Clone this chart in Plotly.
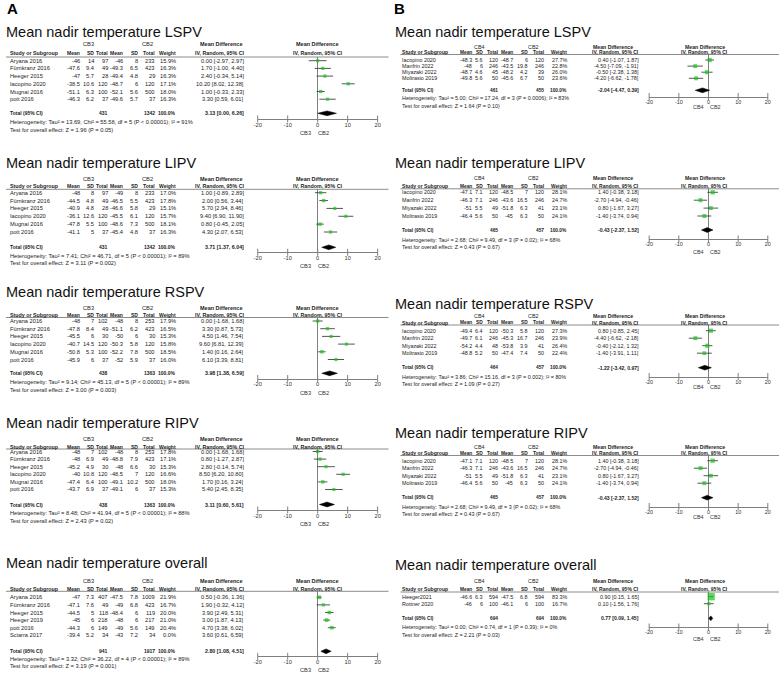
import plotly.graph_objects as go

W, H = 782, 674
FONT = "Liberation Sans, Arial, Helvetica, sans-serif"

# ======================= DATA =======================
# ---- Panel A: CB3 vs CB2 ----
studies_A_pv = ["Aryana 2016", "Fürnkranz 2016", "Heeger 2015", "Iacopino 2020", "Mugnai 2016", "pott 2016"]

A_lspv_mean_e = [-46, -47.6, -47, -38.5, -51.1, -46.3]
A_lspv_sd_e = [14, 9.4, 5.7, 10.6, 6.3, 6.2]
A_lspv_n_e = [97, 49, 28, 120, 100, 37]
A_lspv_mean_c = [-46, -49.3, -49.4, -48.7, -52.1, -49.6]
A_lspv_sd_c = [8, 6.5, 4.8, 6, 5.6, 5.7]
A_lspv_n_c = [233, 423, 29, 120, 500, 37]
A_lspv_weight = [15.9, 16.3, 16.3, 17.1, 18.0, 16.3]
A_lspv_md = [0.00, 1.70, 2.40, 10.20, 1.00, 3.30]
A_lspv_lo = [-2.97, -1.00, -0.34, 8.02, -0.33, 0.59]
A_lspv_hi = [2.97, 4.40, 5.14, 12.38, 2.33, 6.01]
A_lspv_total = [431, 1342, 3.13, 0.00, 6.26]
A_lspv_stats = [13.69, 55.58, 5, "&lt; 0.00001", 91, 1.96, "0.05"]

A_lipv_mean_e = [-48, -44.5, -40.9, -36.1, -47.8, -41.1]
A_lipv_sd_e = [8, 4.8, 4.8, 12.6, 5.5, 5]
A_lipv_n_e = [97, 49, 28, 120, 100, 37]
A_lipv_mean_c = [-49, -46.5, -46.6, -45.5, -48.6, -45.4]
A_lipv_sd_c = [8, 5.5, 5.8, 6.1, 7.3, 4.8]
A_lipv_n_c = [233, 423, 29, 120, 500, 37]
A_lipv_weight = [17.0, 17.8, 15.1, 15.7, 18.1, 16.3]
A_lipv_md = [1.00, 2.00, 5.70, 9.40, 0.80, 4.30]
A_lipv_lo = [-0.89, 0.56, 2.94, 6.90, -0.45, 2.07]
A_lipv_hi = [2.89, 3.44, 8.46, 11.90, 2.05, 6.53]
A_lipv_total = [431, 1342, 3.71, 1.37, 6.04]
A_lipv_stats = [7.41, 46.71, 5, "&lt; 0.00001", 89, 3.11, "0.002"]

A_rspv_mean_e = [-48, -47.8, -45.5, -40.7, -50.8, -45.9]
A_rspv_sd_e = [7, 8.4, 6, 14.5, 5.3, 6]
A_rspv_n_e = [102, 49, 30, 120, 100, 37]
A_rspv_mean_c = [-48, -51.1, -50, -50.3, -52.2, -52]
A_rspv_sd_c = [8, 6.2, 6, 5.8, 7.8, 5.9]
A_rspv_n_c = [253, 423, 30, 120, 500, 37]
A_rspv_weight = [17.9, 16.5, 15.3, 15.8, 18.5, 16.0]
A_rspv_md = [0.00, 3.30, 4.50, 9.60, 1.40, 6.10]
A_rspv_lo = [-1.68, 0.87, 1.46, 6.81, 0.16, 3.39]
A_rspv_hi = [1.68, 5.73, 7.54, 12.39, 2.64, 8.81]
A_rspv_total = [438, 1363, 3.98, 1.38, 6.59]
A_rspv_stats = [9.14, 45.13, 5, "&lt; 0.00001", 89, 3.00, "0.003"]

A_ripv_mean_e = [-48, -48, -45.2, -40, -47.4, -43.7]
A_ripv_sd_e = [7, 6.9, 4.9, 10.8, 6.4, 6.9]
A_ripv_n_e = [102, 49, 30, 120, 100, 37]
A_ripv_mean_c = [-48, -48.8, -48, -48.5, -49.1, -49.1]
A_ripv_sd_c = [8, 7.9, 6.6, 7, 10.2, 6]
A_ripv_n_c = [253, 423, 30, 120, 500, 37]
A_ripv_weight = [17.8, 17.1, 15.3, 16.6, 18.0, 15.3]
A_ripv_md = [0.00, 0.80, 2.80, 8.50, 1.70, 5.40]
A_ripv_lo = [-1.68, -1.27, -0.14, 6.20, 0.16, 2.45]
A_ripv_hi = [1.68, 2.87, 5.74, 10.80, 3.24, 8.35]
A_ripv_total = [438, 1363, 3.11, 0.60, 5.61]
A_ripv_stats = [8.48, 41.94, 5, "&lt; 0.00001", 88, 2.43, "0.02"]

A_all_study = ["Aryana 2016", "Fürnkranz 2016", "Heeger 2015", "Heeger 2019", "pott 2016", "Sciarra 2017"]
A_all_mean_e = [-47, -47.1, -44.5, -45, -44.3, -39.4]
A_all_sd_e = [7.3, 7.6, 5, 6, 6, 5.2]
A_all_n_e = [407, 49, 118, 218, 149, 34]
A_all_mean_c = [-47.5, -49, -48.4, -48, -49, -43]
A_all_sd_c = [7.8, 6.8, 6, 6, 5.6, 7.2]
A_all_n_c = [1009, 423, 119, 217, 149, 34]
A_all_weight = [21.9, 16.7, 20.0, 21.0, 20.4, 0.0]
A_all_md = [0.50, 1.90, 3.90, 3.00, 4.70, 3.60]
A_all_lo = [-0.36, -0.32, 2.49, 1.87, 3.38, 0.61]
A_all_hi = [1.36, 4.12, 5.31, 4.13, 6.02, 6.59]
A_all_total = [941, 1917, 2.80, 1.08, 4.51]
A_all_stats = [3.32, 36.22, 4, "&lt; 0.00001", 89, 3.19, "0.001"]

# ---- Panel B: CB4 vs CB2 ----
studies_B_pv = ["Iacopino 2020", "Manfrin 2022", "Miyazaki 2022", "Moltrasio 2019"]

B_lspv_mean_e = [-48.3, -48, -48.7, -49.8]
B_lspv_sd_e = [5.6, 6, 4.6, 5.6]
B_lspv_n_e = [120, 246, 45, 50]
B_lspv_mean_c = [-48.7, -43.5, -48.2, -45.6]
B_lspv_sd_c = [6, 19.8, 4.2, 6.7]
B_lspv_n_c = [120, 246, 39, 50]
B_lspv_weight = [27.7, 22.8, 26.0, 23.6]
B_lspv_md = [0.40, -4.50, -0.50, -4.20]
B_lspv_lo = [-1.07, -7.09, -2.38, -6.62]
B_lspv_hi = [1.87, -1.91, 1.38, -1.78]
B_lspv_total = [461, 455, -2.04, -4.47, 0.39]
B_lspv_stats = [5.00, 17.24, 3, "= 0.0006", 83, 1.64, "0.10"]

B_lipv_mean_e = [-47.1, -46.3, -51, -46.4]
B_lipv_sd_e = [7.1, 7.1, 5.5, 5.6]
B_lipv_n_e = [120, 246, 49, 50]
B_lipv_mean_c = [-48.5, -43.6, -51.8, -45]
B_lipv_sd_c = [7, 16.5, 6.3, 6.3]
B_lipv_n_c = [120, 246, 41, 50]
B_lipv_weight = [28.1, 24.7, 23.1, 24.1]
B_lipv_md = [1.40, -2.70, 0.80, -1.40]
B_lipv_lo = [-0.38, -4.94, -1.67, -3.74]
B_lipv_hi = [3.18, -0.46, 3.27, 0.94]
B_lipv_total = [465, 457, -0.43, -2.37, 1.52]
B_lipv_stats = [2.68, 9.49, 3, "= 0.02", 68, 0.43, "0.67"]

B_rspv_mean_e = [-49.4, -49.7, -54.2, -48.8]
B_rspv_sd_e = [6.4, 6.1, 4.4, 5.2]
B_rspv_n_e = [120, 246, 48, 50]
B_rspv_mean_c = [-50.3, -45.3, -53.8, -47.4]
B_rspv_sd_c = [5.8, 16.7, 3.9, 7.4]
B_rspv_n_c = [120, 246, 41, 50]
B_rspv_weight = [27.3, 23.9, 26.4, 22.4]
B_rspv_md = [0.80, -4.40, -0.40, -1.40]
B_rspv_lo = [-0.85, -6.62, -2.12, -3.91]
B_rspv_hi = [2.45, -2.18, 1.32, 1.11]
B_rspv_total = [464, 457, -1.22, -3.42, 0.97]
B_rspv_stats = [3.86, 15.16, 3, "= 0.002", 80, 1.09, "0.27"]

B_ripv_mean_e = [-47.1, -46.3, -51, -46.4]
B_ripv_sd_e = [7.1, 7.1, 5.5, 5.6]
B_ripv_n_e = [120, 246, 49, 50]
B_ripv_mean_c = [-48.5, -43.6, -51.8, -45]
B_ripv_sd_c = [7, 16.5, 6.3, 6.3]
B_ripv_n_c = [120, 246, 41, 50]
B_ripv_weight = [28.1, 24.7, 23.1, 24.1]
B_ripv_md = [1.40, -2.70, 0.80, -1.40]
B_ripv_lo = [-0.38, -4.94, -1.67, -3.74]
B_ripv_hi = [3.18, -0.46, 3.27, 0.94]
B_ripv_total = [465, 457, -0.43, -2.37, 1.52]
B_ripv_stats = [2.68, 9.49, 3, "= 0.02", 68, 0.43, "0.67"]

B_all_study = ["Heeger2021", "Rottner 2020"]
B_all_mean_e = [-46.6, -46]
B_all_sd_e = [6.3, 6]
B_all_n_e = [594, 100]
B_all_mean_c = [-47.5, -46.1]
B_all_sd_c = [6.8, 6]
B_all_n_c = [594, 100]
B_all_weight = [83.3, 16.7]
B_all_md = [0.90, 0.10]
B_all_lo = [0.15, -1.56]
B_all_hi = [1.65, 1.76]
B_all_total = [694, 694, 0.77, 0.09, 1.45]
B_all_stats = [0.00, 0.74, 1, "= 0.39", 0, 2.21, "0.03"]

TICKS = [-20, -10, 0, 10, 20]

# ======================= LAYOUT PARAMETERS (pixels) =======================
COLS = {
    "A": dict(study=6, mean1=77, sd1=91, tot1=105, mean2=120.5, sd2=135.5, tot2=152,
              weight=173.5, ci=242, grp1=85, grp2=145, md=219, fmd=316.5,
              fx0=256, fx1=377, cbl=304.7, cbr=322.5, tx=2, lx0=2, lx1=388,
              fs=5.7, hs=5.0, gs=5.5, exp="CB3"),
    "B": dict(study=401.7, mean1=472, sd1=483, tot1=498, mean2=514, sd2=529, tot2=545,
              weight=568, ci=641, grp1=480, grp2=534, md=614, fmd=707,
              fx0=651, fx1=770.7, cbl=701, cbr=718, tx=395, lx0=400, lx1=782,
              fs=5.4, hs=4.8, gs=5.2, exp="CB4"),
}


def V(title, grp, col, line, r0, step, total, het, test, axis, cb):
    return dict(title=title, grp=grp, col=col, line=line, r0=r0, step=step,
                total=total, het=het, test=test, axis=axis, cb=cb)


PANELS = [
    ("A", "Mean nadir temperature LSPV", studies_A_pv, A_lspv_mean_e, A_lspv_sd_e, A_lspv_n_e, A_lspv_mean_c, A_lspv_sd_c, A_lspv_n_c, A_lspv_weight, A_lspv_md, A_lspv_lo, A_lspv_hi, A_lspv_total, A_lspv_stats,
     V(31.7, 44.3, 53, 57, 60.7, 7.7, 113.3, 122.3, 130, 119, 132.7)),
    ("A", "Mean nadir temperature LIPV", studies_A_pv, A_lipv_mean_e, A_lipv_sd_e, A_lipv_n_e, A_lipv_mean_c, A_lipv_sd_c, A_lipv_n_c, A_lipv_weight, A_lipv_md, A_lipv_lo, A_lipv_hi, A_lipv_total, A_lipv_stats,
     V(163, 179, 186.3, 189.3, 192.7, 7.86, 247.3, 255.9, 263.3, 252.3, 266)),
    ("A", "Mean nadir temperature RSPV", studies_A_pv, A_rspv_mean_e, A_rspv_sd_e, A_rspv_n_e, A_rspv_mean_c, A_rspv_sd_c, A_rspv_n_c, A_rspv_weight, A_rspv_md, A_rspv_lo, A_rspv_hi, A_rspv_total, A_rspv_stats,
     V(292.3, 308.3, 314.7, 317.5, 321, 7.7, 373.3, 382, 389.5, 378.5, 392.5)),
    ("A", "Mean nadir temperature RIPV", studies_A_pv, A_ripv_mean_e, A_ripv_sd_e, A_ripv_n_e, A_ripv_mean_c, A_ripv_sd_c, A_ripv_n_c, A_ripv_weight, A_ripv_md, A_ripv_lo, A_ripv_hi, A_ripv_total, A_ripv_stats,
     V(423, 439, 446.5, 449, 451.5, 7.6, 504.5, 513, 520.5, 510, 523.5)),
    ("A", "Mean nadir temperature overall", A_all_study, A_all_mean_e, A_all_sd_e, A_all_n_e, A_all_mean_c, A_all_sd_c, A_all_n_c, A_all_weight, A_all_md, A_all_lo, A_all_hi, A_all_total, A_all_stats,
     V(563, 580.7, 588.7, 591.3, 597.3, 7.6, 651.3, 659, 666.3, 656.3, 670)),
    ("B", "Mean nadir temperature LSPV", studies_B_pv, B_lspv_mean_e, B_lspv_sd_e, B_lspv_n_e, B_lspv_mean_c, B_lspv_sd_c, B_lspv_n_c, B_lspv_weight, B_lspv_md, B_lspv_lo, B_lspv_hi, B_lspv_total, B_lspv_stats,
     V(31.7, 47, 52.3, 54.5, 60, 6.1, 90.3, 98.3, 105.7, 96.5, 107.3)),
    ("B", "Mean nadir temperature LIPV", studies_B_pv, B_lipv_mean_e, B_lipv_sd_e, B_lipv_n_e, B_lipv_mean_c, B_lipv_sd_c, B_lipv_n_c, B_lipv_weight, B_lipv_md, B_lipv_lo, B_lipv_hi, B_lipv_total, B_lipv_stats,
     V(163.3, 178.3, 186.3, 188.8, 192.3, 7.9, 230, 240, 247.3, 239, 252)),
    ("B", "Mean nadir temperature RSPV", studies_B_pv, B_rspv_mean_e, B_rspv_sd_e, B_rspv_n_e, B_rspv_mean_c, B_rspv_sd_c, B_rspv_n_c, B_rspv_weight, B_rspv_md, B_rspv_lo, B_rspv_hi, B_rspv_total, B_rspv_stats,
     V(304.3, 315.7, 322.7, 325, 330.7, 7.5, 367.7, 376.7, 384, 376.5, 387.3)),
    ("B", "Mean nadir temperature RIPV", studies_B_pv, B_ripv_mean_e, B_ripv_sd_e, B_ripv_n_e, B_ripv_mean_c, B_ripv_sd_c, B_ripv_n_c, B_ripv_weight, B_ripv_md, B_ripv_lo, B_ripv_hi, B_ripv_total, B_ripv_stats,
     V(433.3, 446.7, 453.3, 455.5, 460.7, 7.5, 497.7, 506.7, 514, 506.5, 517.3)),
    ("B", "Mean nadir temperature overall", B_all_study, B_all_mean_e, B_all_sd_e, B_all_n_e, B_all_mean_c, B_all_sd_c, B_all_n_c, B_all_weight, B_all_md, B_all_lo, B_all_hi, B_all_total, B_all_stats,
     V(565, 580.7, 589.3, 592, 596.7, 7.0, 618.3, 627.3, 634.7, 627, 639)),
]

GREEN = "#19c219"
TXT = "#1c1c1c"
GRAY = "#7f7f7f"

ann = []
shapes = []


def fmt(v):
    return str(int(v)) if float(v).is_integer() else str(v)


def text(x, y, s, anchor="left", size=5.5, bold=False, color=TXT):
    ann.append(dict(x=x / W, y=1 - y / H, xref="paper", yref="paper",
                    text=f"<b>{s}</b>" if bold else s, showarrow=False,
                    xanchor=anchor, yanchor="middle", borderpad=0, borderwidth=0,
                    font=dict(size=size, color=color, family=FONT)))


fig = go.Figure()
layout_axes = {}

for k, (side, title, study, me, se, ne, mc, sc, nc, wt, md, lo, hi, tot, st, v) in enumerate(PANELS, start=1):
    c = COLS[side]
    fs, hs, gs = c["fs"], c["hs"], c["gs"]
    # title
    text(c["tx"], v["title"], title, size=14.5, color="#111")
    # group header row
    text(c["grp1"], v["grp"], c["exp"], "center", fs)
    text(c["grp2"], v["grp"], "CB2", "center", fs)
    text(c["md"], v["grp"], "Mean Difference", "center", gs, bold=True)
    text(c["fmd"], v["grp"], "Mean Difference", "center", gs, bold=True)
    # column header row
    text(c["study"], v["col"], "Study or Subgroup", "left", hs + 0.3, bold=True)
    for key, lab in [("mean1", "Mean"), ("sd1", "SD"), ("tot1", "Total"), ("mean2", "Mean"),
                     ("sd2", "SD"), ("tot2", "Total"), ("weight", "Weight")]:
        text(c[key], v["col"], lab, "right", hs, bold=True)
    text(c["ci"], v["col"], "IV, Random, 95% CI", "right", gs - 0.2, bold=True)
    text(c["fmd"], v["col"], "IV, Random, 95% CI", "center", gs - 0.2, bold=True)
    shapes.append(dict(type="line", xref="paper", yref="paper", x0=c["lx0"] / W, x1=c["lx1"] / W,
                       y0=1 - v["line"] / H, y1=1 - v["line"] / H, line=dict(color=GRAY, width=0.9)))
    # study rows
    for i in range(len(study)):
        y = v["r0"] + i * v["step"]
        text(c["study"], y, study[i], "left", fs)
        text(c["mean1"], y, fmt(me[i]), "right", fs)
        text(c["sd1"], y, fmt(se[i]), "right", fs)
        text(c["tot1"], y, fmt(ne[i]), "right", fs)
        text(c["mean2"], y, fmt(mc[i]), "right", fs)
        text(c["sd2"], y, fmt(sc[i]), "right", fs)
        text(c["tot2"], y, fmt(nc[i]), "right", fs)
        text(c["weight"], y, f"{wt[i]:.1f}%", "right", fs)
        text(c["ci"], y, f"{md[i]:.2f} [{lo[i]:.2f}, {hi[i]:.2f}]", "right", fs)
    # totals
    text(c["study"], v["total"], "Total (95% CI)", "left", hs, bold=True)
    text(c["tot1"], v["total"], fmt(tot[0]), "right", hs, bold=True)
    text(c["tot2"], v["total"], fmt(tot[1]), "right", hs, bold=True)
    text(c["weight"], v["total"], "100.0%", "right", hs, bold=True)
    text(c["ci"], v["total"], f"{tot[2]:.2f} [{tot[3]:.2f}, {tot[4]:.2f}]", "right", hs + 0.3, bold=True)
    text(c["study"], v["het"],
         f"Heterogeneity: Tau² = {st[0]:.2f}; Chi² = {st[1]:.2f}, df = {st[2]} (P {st[3]}); I² = {st[4]}%",
         "left", fs)
    text(c["study"], v["test"], f"Test for overall effect: Z = {st[5]:.2f} (P = {st[6]})", "left", fs)
    text(c["cbl"], v["cb"], c["exp"], "center", fs, color="#333")
    text(c["cbr"], v["cb"], "CB2", "center", fs, color="#333")

    # ---------- forest subplot ----------
    xa = "xaxis" if k == 1 else f"xaxis{k}"
    ya = "yaxis" if k == 1 else f"yaxis{k}"
    xr = "x" if k == 1 else f"x{k}"
    yr = "y" if k == 1 else f"y{k}"
    step = v["step"]
    top_idx = (v["line"] - v["r0"]) / step
    bot_idx = (v["axis"] - v["r0"]) / step
    tot_idx = (v["total"] - v["r0"]) / step
    layout_axes[xa] = dict(domain=[c["fx0"] / W, c["fx1"] / W], anchor=yr, range=[-20, 20],
                           showgrid=False, zeroline=True, zerolinecolor=GRAY, zerolinewidth=1,
                           showline=True, linecolor=GRAY, linewidth=1, ticks="",
                           tickvals=TICKS, ticktext=[str(t) for t in TICKS],
                           tickfont=dict(size=fs, color="#333", family=FONT), fixedrange=True)
    layout_axes[ya] = dict(domain=[1 - v["axis"] / H, 1 - v["line"] / H], anchor=xr,
                           range=[bot_idx, top_idx], visible=False, showgrid=False,
                           zeroline=False, fixedrange=True)
    # tick marks crossing the axis line
    fig.add_trace(go.Scatter(x=TICKS, y=[bot_idx] * len(TICKS), mode="markers", xaxis=xr, yaxis=yr,
                             marker=dict(symbol="line-ns", size=5, line=dict(color=GRAY, width=1)),
                             cliponaxis=False, hoverinfo="skip"))
    # study estimates (studies with 0 % weight are not drawn)
    idx = [i for i in range(len(study)) if wt[i] > 0]
    fig.add_trace(go.Scatter(
        x=[md[i] for i in idx], y=list(idx), mode="markers", xaxis=xr, yaxis=yr,
        marker=dict(symbol="square", color=GREEN, size=[0.8 * wt[i] ** 0.5 for i in idx],
                    line=dict(width=0)),
        error_x=dict(type="data", symmetric=False,
                     array=[hi[i] - md[i] for i in idx],
                     arrayminus=[md[i] - lo[i] for i in idx],
                     color="#2a2a2a", thickness=0.8, width=0),
        cliponaxis=False, hoverinfo="skip"))
    # pooled diamond
    h = 2.4 / step
    fig.add_trace(go.Scatter(
        x=[tot[3], tot[2], tot[4], tot[2], tot[3]],
        y=[tot_idx, tot_idx - h, tot_idx, tot_idx + h, tot_idx],
        mode="lines", fill="toself", fillcolor="#000", line=dict(color="#000", width=0.5),
        xaxis=xr, yaxis=yr, hoverinfo="skip"))

# panel letters
text(8.5, 8.5, "A", "center", 15, bold=True, color="#000")
text(399, 8.5, "B", "center", 15, bold=True, color="#000")

fig.update_layout(
    width=W, height=H, autosize=False,
    margin=dict(l=0, r=0, t=0, b=0),
    paper_bgcolor="white", plot_bgcolor="rgba(0,0,0,0)",
    showlegend=False, annotations=ann, shapes=shapes,
    font=dict(family=FONT),
    **layout_axes,
)

fig.write_html("out.html", config={"displayModeBar": False, "staticPlot": True},
               post_script="document.body.style.margin='0';document.body.style.overflow='hidden';")
